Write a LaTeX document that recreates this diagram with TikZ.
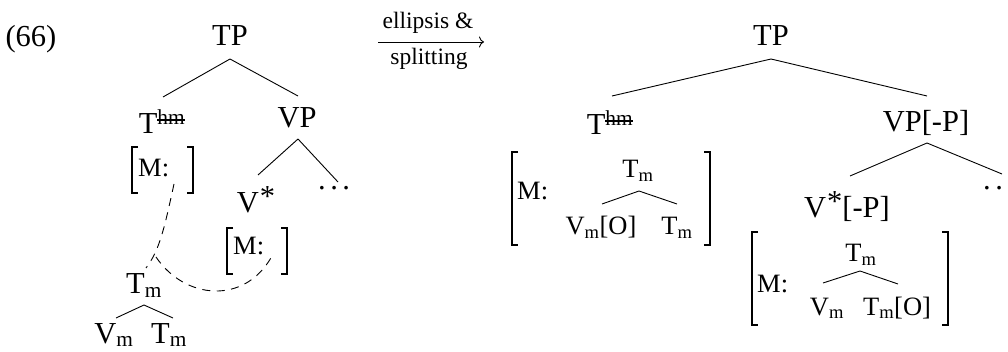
\documentclass[tikz,border=0pt]{standalone}
\usepackage{fontspec}
\setmainfont{Liberation Serif}
\usetikzlibrary{calc,arrows.meta}
\newcommand\mystrike[1]{\leavevmode\setbox0\hbox{#1}\rlap{\rule[0.45ex]{\wd0}{0.07em}}\box0}
\newcommand\mydots{.\kern4.5pt.\kern4.5pt.}
\newcommand\myast{\kern1pt\raisebox{6pt}{*}}
\begin{document}
\begin{tikzpicture}[x=1pt,y=-1pt,
  lab/.style={anchor=base,inner sep=0pt,font=\fontsize{30.5}{32}\selectfont},
  sm/.style={anchor=base,inner sep=0pt,font=\fontsize{26.5}{28}\selectfont},
  arrlab/.style={anchor=base,inner sep=0pt,font=\fontsize{23.5}{25}\selectfont},
  edge/.style={line width=0.9pt},
  brk/.style={line width=1.1pt},
  dsh/.style={line width=0.9pt,dash pattern=on 8pt off 6.5pt}]
\useasboundingbox (0,0) rectangle (1008,352);
% ---------- left tree ----------
\node[lab] (ex) at (31,47) {(66)};
\node[lab] (tpL) at (230,46) {TP};
\node[lab] (thmL) at (162,134) {T\textsuperscript{\mystrike{hm}}};
\node[lab] (vpL) at (297,128) {VP};
\node[lab] (vsL) at (256,213) {V\myast};
\node[lab,anchor=base west] (dotsL) at (318,190) {\mydots};
\node[sm,anchor=base west] (m1) at (138,177) {M:};
\node[sm,anchor=base west] (m2) at (233,255) {M:};
\node[lab] (tmL) at (144,294) {T\textsubscript{m}};
\node[lab] (vmL) at (114,343) {V\textsubscript{m}};
\node[lab] (tmL2) at (169,343) {T\textsubscript{m}};
\draw[edge] ($(tpL.base)+(0,13)$) -- ($(thmL.base)+(1,-37)$);
\draw[edge] ($(tpL.base)+(0,13)$) -- ($(vpL.base)+(1,-32)$);
\draw[edge] ($(vpL.base)+(1,11)$) -- ($(vsL.base)+(2,-38)$);
\draw[edge] ($(vpL.base)+(1,11)$) -- ($(dotsL.base west)+(20,-8)$);
\draw[edge] ($(tmL.base)+(0,11)$) -- ($(vmL.base)+(2,-25)$);
\draw[edge] ($(tmL.base)+(0,11)$) -- ($(tmL2.base)+(4,-25)$);
% brackets
\draw[brk] (138,147) -| (132,193) -- (138,193);
\draw[brk] (187,147) -| (193,193) -- (187,193);
\draw[brk] (233,228) -| (227,274) -- (233,274);
\draw[brk] (281,228) -| (287,274) -- (281,274);
% dashed links
\coordinate (d1) at (174,184);
\coordinate (d2) at (272,256);
\coordinate (j1) at (146,268);
\coordinate (j2) at (156,257);
\draw[dsh] (d1) .. controls (165,225) and (160,250) .. (j1);
\draw[dsh] (j2) .. controls (185,300) and (245,305) .. (d2);
% ---------- arrow ----------
\coordinate (a1) at (378,42);
\coordinate (a2) at (484,42);
\draw[line width=0.9pt,-{To[length=5pt,width=11pt]}] (a1) -- (a2);
\node[arrlab] (al1) at (428,29) {ellipsis \&};
\node[arrlab] (al2) at (429,65) {splitting};
% ---------- right tree ----------
\node[lab] (tpR) at (771,46) {TP};
\node[lab] (thmR) at (610,135) {T\textsuperscript{\mystrike{hm}}};
\node[lab] (vpR) at (926,132) {VP[-P]};
\node[lab] (vsR) at (847,218) {V\myast[-P]};
\node[lab,anchor=base west] (dotsR) at (983,190) {\mydots};
\node[sm,anchor=base west] (m3) at (517,200) {M:};
\node[sm] (tmR1) at (638,178) {T\textsubscript{m}};
\node[sm] (vmR1) at (601,235) {V\textsubscript{m}[O]};
\node[sm] (tmR1b) at (677,235) {T\textsubscript{m}};
\node[sm,anchor=base west] (m4) at (757,293) {M:};
\node[sm] (tmR2) at (861,262) {T\textsubscript{m}};
\node[sm] (vmR2) at (827,315) {V\textsubscript{m}};
\node[sm] (tmR2b) at (897,315) {T\textsubscript{m}[O]};
\draw[edge] ($(tpR.base)+(0,13)$) -- ($(thmR.base)+(2,-39)$);
\draw[edge] ($(tpR.base)+(0,13)$) -- ($(vpR.base)+(1,-36)$);
\draw[edge] ($(vpR.base)+(1,11)$) -- ($(vsR.base)+(3,-42)$);
\draw[edge] ($(vpR.base)+(1,11)$) -- ($(dotsR.base west)+(19,-16)$);
\draw[edge] ($(tmR1.base)+(1,13)$) -- ($(vmR1.base)+(1,-31)$);
\draw[edge] ($(tmR1.base)+(1,13)$) -- ($(tmR1b.base)+(0,-31)$);
\draw[edge] ($(tmR2.base)+(-1,9)$) -- ($(vmR2.base)+(-4,-32)$);
\draw[edge] ($(tmR2.base)+(-1,9)$) -- ($(tmR2b.base)+(1,-31)$);
\draw[brk] (518,152) -| (512,245) -- (518,245);
\draw[brk] (704,152) -| (710,245) -- (704,245);
\draw[brk] (758,232) -| (752,325) -- (758,325);
\draw[brk] (942,232) -| (948,325) -- (942,325);
\end{tikzpicture}
\end{document}
